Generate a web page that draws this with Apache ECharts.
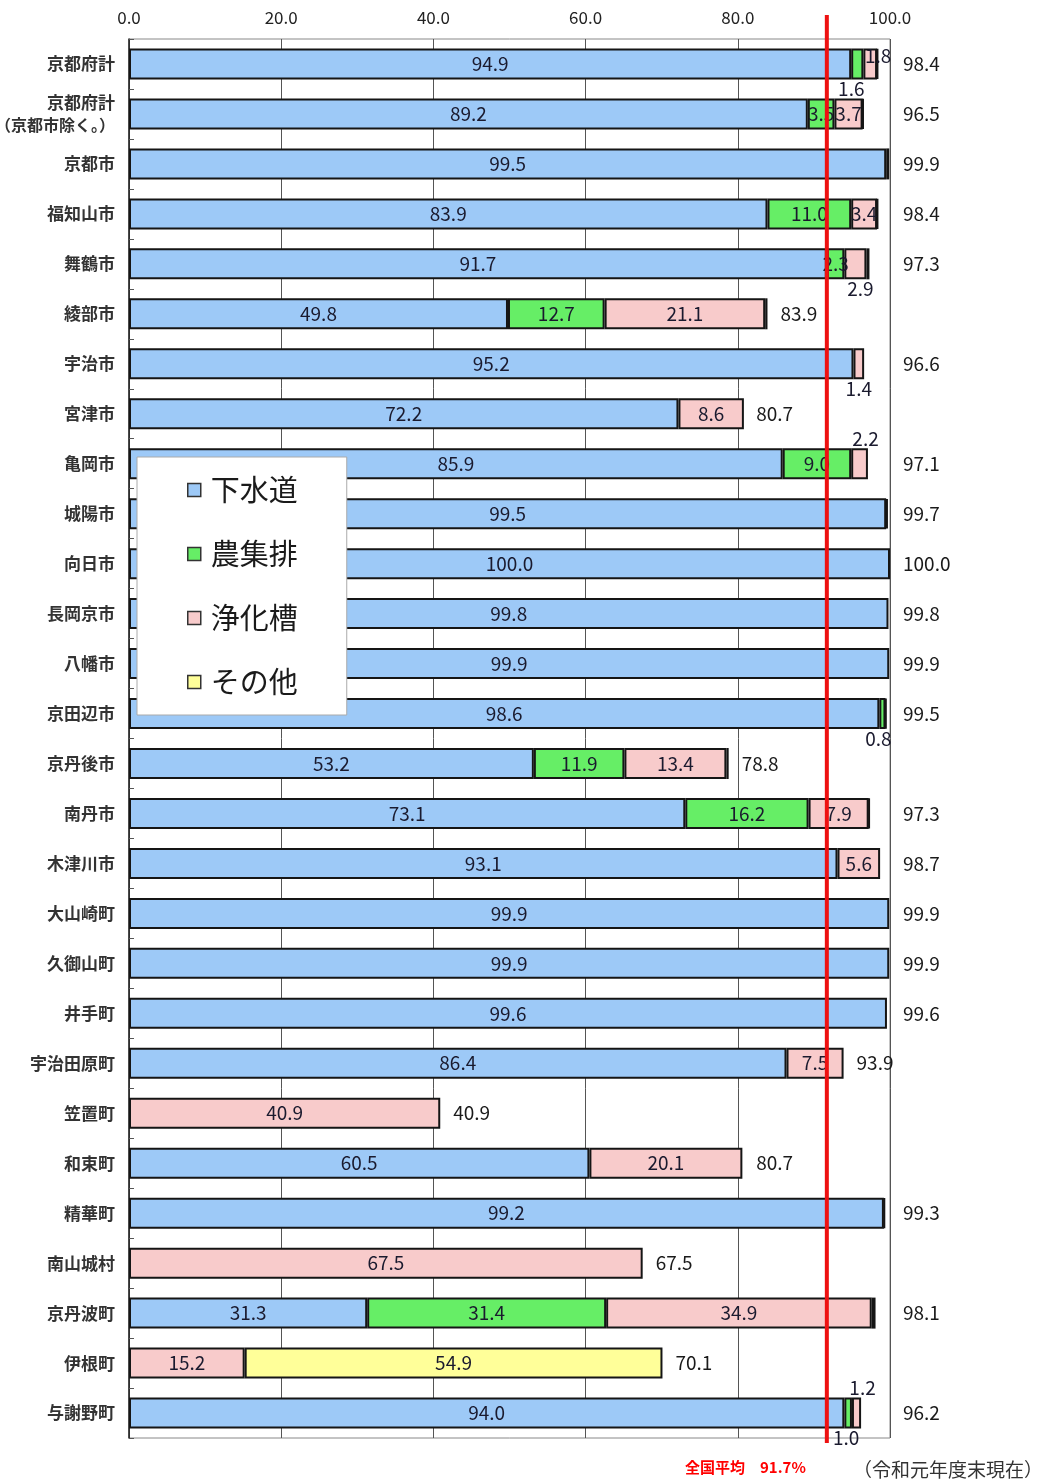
<!DOCTYPE html>
<html><head><meta charset="utf-8">
<script src="https://cdn.jsdelivr.net/npm/echarts@6/dist/echarts.min.js"></script>
<style>html,body{margin:0;padding:0;background:#fff}#c{width:1042px;height:1479px}</style>
</head><body><div id="c"></div>
<script>
const categories = ['京都府計','京都府計\n（京都市除く。）','京都市','福知山市','舞鶴市','綾部市','宇治市','宮津市','亀岡市','城陽市','向日市','長岡京市','八幡市','京田辺市','京丹後市','南丹市','木津川市','大山崎町','久御山町','井手町','宇治田原町','笠置町','和束町','精華町','南山城村','京丹波町','伊根町','与謝野町'];
const seriesNames = ['下水道','農集排','浄化槽','その他'];
const sewer  = [94.9,89.2,99.5,83.9,91.7,49.8,95.2,72.2,85.9,99.5,100.0,99.8,99.9,98.6,53.2,73.1,93.1,99.9,99.9,99.6,86.4,null,60.5,99.2,null,31.3,null,94.0];
const agri   = [1.6,3.5,null,11.0,2.3,12.7,null,null,9.0,null,null,null,null,0.8,11.9,16.2,null,null,null,null,null,null,null,null,null,31.4,null,1.0];
const septic = [1.8,3.7,0.4,3.4,2.9,21.1,1.4,8.6,2.2,0.2,null,null,null,null,13.4,7.9,5.6,null,null,null,7.5,40.9,20.1,0.1,67.5,34.9,15.2,1.2];
const other  = [0.1,0.1,null,0.1,0.4,0.3,null,null,null,null,null,null,null,0.1,0.3,0.1,null,null,null,null,null,null,null,null,null,0.5,54.9,null];
const totals = [98.4,96.5,99.9,98.4,97.3,83.9,96.6,80.7,97.1,99.7,100.0,99.8,99.9,99.5,78.8,97.3,98.7,99.9,99.9,99.6,93.9,40.9,80.7,99.3,67.5,98.1,70.1,96.2];
const xTicks = [0,20,40,60,80,100];
const nationalAvg = 91.7;

const colors = ['#9DC9F7','#66EE66','#F8CBCB','#FFFF99'];
const FONT = '"Noto Sans CJK JP", "Noto Sans", sans-serif';

// label placement overrides (style only)
const labelOverride = {
  '農集排': {0:{position:'bottom',distance:0,offset:[-6,0]}, 13:{position:'bottom',distance:0,offset:[-4,0]}, 27:{position:'bottom',distance:0,offset:[-2,0]}},
  '浄化槽': {0:{position:'inside',offset:[8,-8]}, 4:{position:'bottom',distance:0,offset:[5,0]}, 6:{position:'bottom',distance:0}, 8:{position:'top',distance:0,offset:[6,0]}, 27:{position:'top',distance:0,offset:[6,0]}}
};

const dataSets = [sewer, agri, septic, other];
const barSeries = seriesNames.map((name, si) => ({
  name, type:'bar', stack:'total', barWidth:31,
  itemStyle:{color:colors[si], borderColor:'#151515', borderWidth:2},
  label:{show:true, position:'inside', color:'#1a1a2e', fontSize:19, fontFamily:FONT,
    formatter: p => (p.value == null || p.value < 0.6) ? '' : p.value.toFixed(1)},
  data: dataSets[si].map((v, i) => {
    const o = (labelOverride[name] || {})[i];
    return o ? {value:v, label:o} : {value:v};
  })
}));

const chart = echarts.init(document.getElementById('c'));
chart.setOption({
  animation:false,
  textStyle:{fontFamily:FONT},
  grid:{left:129, right:152, top:39, bottom:41, show:true, borderColor:'#888', borderWidth:1, containLabel:false, outerBoundsMode:'none'},
  legend:{data:seriesNames, orient:'vertical', left:137, top:457,
    padding:[18,49,18,50], itemGap:34, itemWidth:13, itemHeight:13,
    backgroundColor:'#fff', borderColor:'#aaa', borderWidth:1,
    icon:'rect', itemStyle:{borderColor:'#333', borderWidth:1.5},
    textStyle:{fontSize:29, color:'#1a1a1a', fontFamily:FONT, padding:[0,0,0,5], lineHeight:30}},
  title:[
    {text:'全国平均　91.7%', left:680, top:1455, textStyle:{color:'#f00', fontSize:15, fontWeight:'bold', fontFamily:FONT}},
    {text:'（令和元年度末現在）', left:848, top:1455, textStyle:{color:'#333', fontSize:19, fontWeight:'normal', fontFamily:FONT}}
  ],
  xAxis:{type:'value', position:'top', min:xTicks[0], max:xTicks[xTicks.length-1], interval:20,
    axisLabel:{formatter:v=>v.toFixed(1), fontSize:17, color:'#222', margin:13},
    axisLine:{show:false}, axisTick:{show:false},
    splitLine:{show:true, lineStyle:{color:'#555', width:1}}},
  yAxis:[
    {type:'category', data:categories, inverse:true,
      axisLine:{show:true, lineStyle:{color:'#222', width:1.5}},
      axisTick:{show:true, inside:true, length:5, lineStyle:{color:'#555'}},
      axisLabel:{fontSize:17, fontWeight:'bold', color:'#333', margin:14, lineHeight:22,
        formatter: v => v.split('\n').map((s, k) => k === 0 ? '{a|' + s + '}' : '{b|' + s + '}').join('\n'),
        rich:{a:{fontSize:17, fontWeight:'bold', color:'#333', lineHeight:22, fontFamily:FONT},
              b:{fontSize:16, fontWeight:'bold', color:'#333', lineHeight:22, fontFamily:FONT}}}},
    {type:'category', data:categories, inverse:true, position:'right',
      axisLine:{show:false}, axisTick:{show:false},
      axisLabel:{fontSize:19, color:'#1a1a1a', margin:13,
        formatter:(v, i) => totals[i] >= 95 ? totals[i].toFixed(1) : ''}}
  ],
  series: barSeries.concat([{
    name:'合計', type:'scatter', symbolSize:0, yAxisIndex:0, silent:true,
    itemStyle:{opacity:1},
    data: totals.map((t, i) => [t, categories[i]]),
    label:{show:true, position:'right', distance:13, fontSize:19, color:'#1a1a1a', opacity:1, fontFamily:FONT,
      formatter: p => p.value[0] < 95 ? p.value[0].toFixed(1) : ''}
  }])
});

const xPix = chart.convertToPixel({xAxisIndex:0}, nationalAvg);
chart.setOption({graphic:[{type:'line', z:100, shape:{x1:xPix, y1:15, x2:xPix, y2:1443}, style:{stroke:'#ee1111', lineWidth:4}}]});
</script></body></html>
